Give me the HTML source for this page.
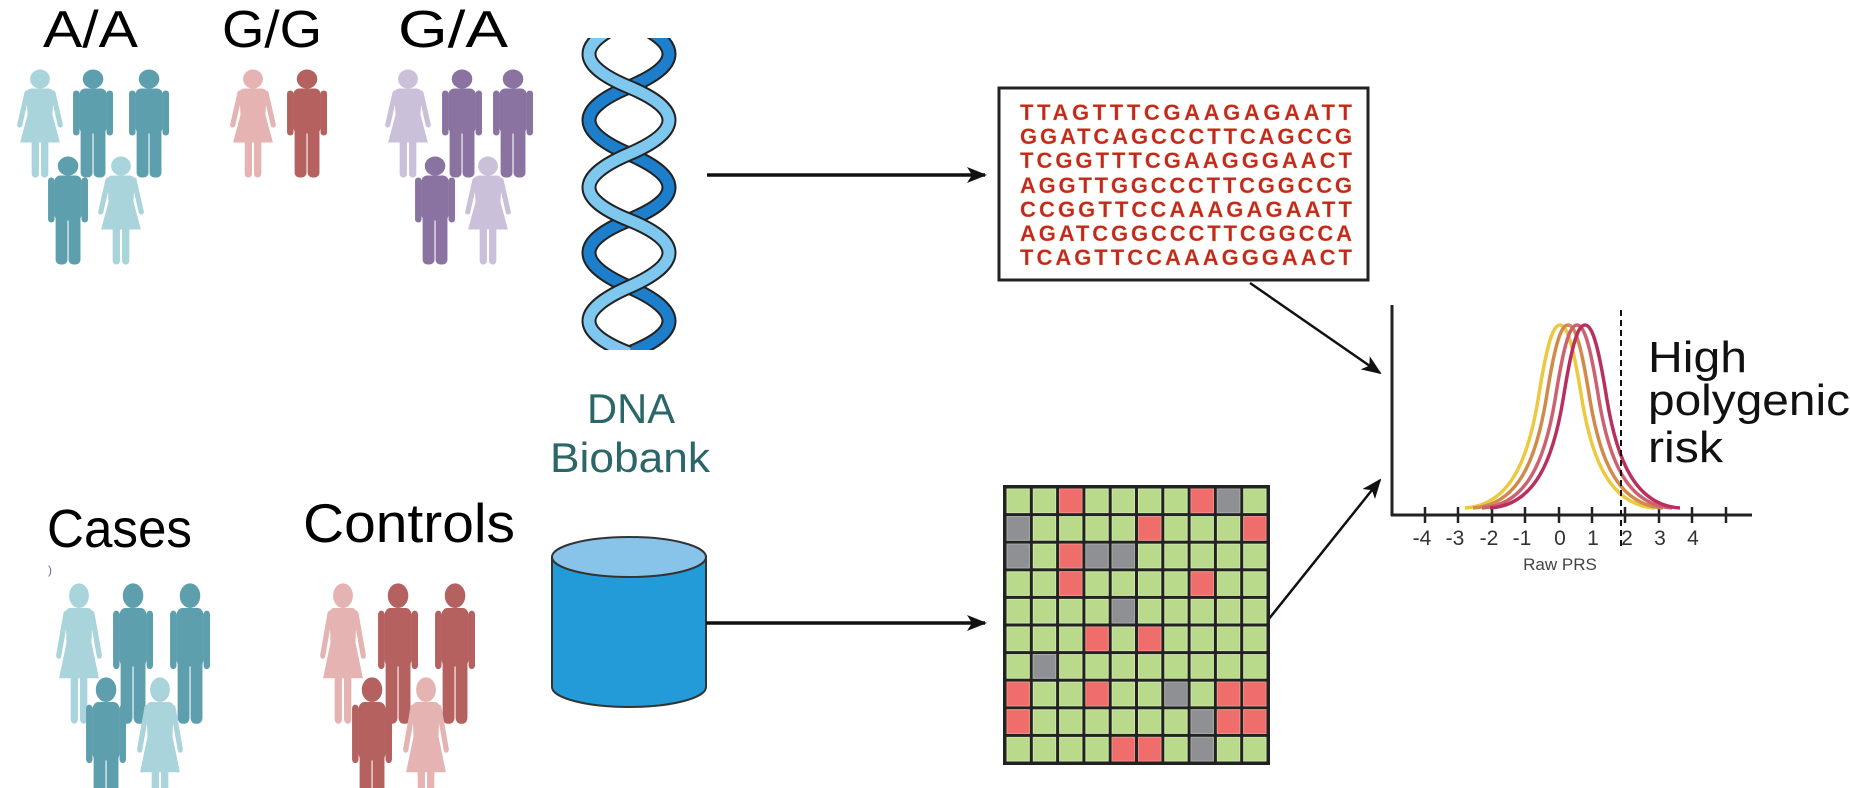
<!DOCTYPE html>
<html><head><meta charset="utf-8"><style>
html,body{margin:0;padding:0;background:#fff;}
svg{display:block;}
text{font-family:"Liberation Sans",sans-serif;}
</style></head><body>
<svg width="1850" height="788" viewBox="0 0 1850 788" xmlns="http://www.w3.org/2000/svg">
<defs>
<g id="man">
<circle cx="18" cy="9" r="9"/>
<rect x="6" y="19" width="24" height="44" rx="5"/>
<rect x="0" y="21" width="5" height="44" rx="2.5"/>
<rect x="31" y="21" width="5" height="44" rx="2.5"/>
<rect x="7" y="55" width="10" height="52" rx="4"/>
<rect x="19" y="55" width="10" height="52" rx="4"/>
</g>
<g id="woman">
<circle cx="22.5" cy="9" r="9"/>
<path d="M14,19 L31,19 Q35,19 35,24 L34,45 L41,72 L4,72 L11,45 L10,24 Q10,19 14,19 Z"/>
<path d="M10,23 L3,55" stroke-width="5" stroke-linecap="round" fill="none"/>
<path d="M35,23 L42,55" stroke-width="5" stroke-linecap="round" fill="none"/>
<rect x="15" y="70" width="6" height="37" rx="3"/>
<rect x="24" y="70" width="6" height="37" rx="3"/>
</g>
<clipPath id="hc"><rect x="570" y="38" width="120" height="312"/></clipPath>
<marker id="ah" viewBox="0 0 20 16" refX="18" refY="8" markerWidth="20" markerHeight="16" markerUnits="userSpaceOnUse" orient="auto">
<path d="M0,0 L20,8 L0,16 L5,8 Z" fill="#111"/>
</marker>
<pattern id="cell" x="1005" y="487" width="26.3" height="27.6" patternUnits="userSpaceOnUse">
<rect x="0" y="0" width="26.3" height="27.6" fill="#222"/>
<rect x="2" y="2" width="22.3" height="23.6" fill="#b9da8a" stroke="#cfe8ad" stroke-width="1"/>
</pattern>
</defs>

<!-- Top headings -->
<text x="43" y="47" font-size="52" textLength="95" lengthAdjust="spacingAndGlyphs">A/A</text>
<text x="222" y="47" font-size="52" textLength="100" lengthAdjust="spacingAndGlyphs">G/G</text>
<text x="398" y="47" font-size="52" textLength="110" lengthAdjust="spacingAndGlyphs">G/A</text>

<!-- A/A group -->
<g fill="#a9d4dc" stroke="#a9d4dc"><use href="#woman" transform="translate(16.6,70) scale(1.04,1)"/></g>
<g fill="#5e9fae" stroke="#5e9fae"><use href="#man" transform="translate(73.6,70) scale(1.08,1)"/><use href="#man" transform="translate(129.6,70) scale(1.08,1)"/><use href="#man" transform="translate(48.6,157) scale(1.08,1)"/></g>
<g fill="#a9d4dc" stroke="#a9d4dc"><use href="#woman" transform="translate(97.6,157) scale(1.04,1)"/></g>
<!-- G/G -->
<g fill="#e4b3b2" stroke="#e4b3b2"><use href="#woman" transform="translate(229.6,70) scale(1.04,1)"/></g>
<g fill="#b5615f" stroke="#b5615f"><use href="#man" transform="translate(287.6,70) scale(1.08,1)"/></g>
<!-- G/A -->
<g fill="#cbc0da" stroke="#cbc0da"><use href="#woman" transform="translate(384.6,70) scale(1.04,1)"/></g>
<g fill="#8a73a1" stroke="#8a73a1"><use href="#man" transform="translate(442.6,70) scale(1.08,1)"/><use href="#man" transform="translate(493.6,70) scale(1.08,1)"/><use href="#man" transform="translate(415.6,157) scale(1.08,1)"/></g>
<g fill="#cbc0da" stroke="#cbc0da"><use href="#woman" transform="translate(464.6,157) scale(1.04,1)"/></g>

<!-- Bottom headings -->
<text x="47" y="547" font-size="54" textLength="145" lengthAdjust="spacingAndGlyphs">Cases</text>
<text x="303" y="542" font-size="55" textLength="212" lengthAdjust="spacingAndGlyphs">Controls</text>
<text x="48" y="574" font-size="12" fill="#669">)</text>

<!-- Cases -->
<g fill="#a9d4dc" stroke="#a9d4dc"><use href="#woman" transform="translate(55.6,584) scale(1.04,1.3)"/></g>
<g fill="#5e9fae" stroke="#5e9fae"><use href="#man" transform="translate(113.6,584) scale(1.08,1.3)"/><use href="#man" transform="translate(170.6,584) scale(1.08,1.3)"/><use href="#man" transform="translate(86.6,678) scale(1.08,1.3)"/></g>
<g fill="#a9d4dc" stroke="#a9d4dc"><use href="#woman" transform="translate(136.6,678) scale(1.04,1.3)"/></g>
<!-- Controls -->
<g fill="#e4b3b2" stroke="#e4b3b2"><use href="#woman" transform="translate(319.6,584) scale(1.04,1.3)"/></g>
<g fill="#b5615f" stroke="#b5615f"><use href="#man" transform="translate(378.6,584) scale(1.08,1.3)"/><use href="#man" transform="translate(435.6,584) scale(1.08,1.3)"/><use href="#man" transform="translate(352.6,678) scale(1.08,1.3)"/></g>
<g fill="#e4b3b2" stroke="#e4b3b2"><use href="#woman" transform="translate(402.6,678) scale(1.04,1.3)"/></g>

<!-- DNA helix -->
<g clip-path="url(#hc)" fill="none">
<path d="M629,21 Q709,54 629,87 T629,154 T629,220 T629,287 T629,353" stroke="#222" stroke-width="15"/>
<path d="M629,21 Q709,54 629,87 T629,154 T629,220 T629,287 T629,353" stroke="#1d7fcc" stroke-width="11"/>
<path d="M629,21 Q549,54 629,87 T629,154 T629,220 T629,287 T629,353" stroke="#222" stroke-width="15"/>
<path d="M629,21 Q549,54 629,87 T629,154 T629,220 T629,287 T629,353" stroke="#7ec8f0" stroke-width="11"/>
</g>
<text x="631" y="423" font-size="42" fill="#2b6668" text-anchor="middle" textLength="88" lengthAdjust="spacingAndGlyphs">DNA</text>
<text x="630" y="472" font-size="42" fill="#2b6668" text-anchor="middle" textLength="160" lengthAdjust="spacingAndGlyphs">Biobank</text>

<!-- Cylinder -->
<path d="M552,557 L552,687 A77,20 0 0 0 706,687 L706,557 Z" fill="#239bd8" stroke="#333" stroke-width="2"/>
<ellipse cx="629" cy="557" rx="77" ry="20" fill="#88c4ea" stroke="#333" stroke-width="2"/>

<!-- Arrows -->
<line x1="707" y1="175" x2="985" y2="175" stroke="#111" stroke-width="3.5" marker-end="url(#ah)"/>
<line x1="706" y1="623" x2="985" y2="623" stroke="#111" stroke-width="3.5" marker-end="url(#ah)"/>
<line x1="1250" y1="283" x2="1380" y2="373" stroke="#111" stroke-width="2.5" marker-end="url(#ah)"/>
<line x1="1268" y1="620" x2="1380" y2="480" stroke="#111" stroke-width="2.5" marker-end="url(#ah)"/>

<!-- Sequence box -->
<rect x="999" y="88" width="369" height="192" fill="#fff" stroke="#222" stroke-width="3"/>
<g font-size="22" font-weight="bold" fill="#c2262a" stroke="#e8a030" stroke-width="0.3" font-family="'Liberation Sans Narrow','Liberation Sans',sans-serif">
<text x="1020" y="120" textLength="332" lengthAdjust="spacing">TTAGTTTCGAAGAGAATT</text>
<text x="1020" y="144" textLength="332" lengthAdjust="spacing">GGATCAGCCCTTCAGCCG</text>
<text x="1020" y="168" textLength="332" lengthAdjust="spacing">TCGGTTTCGAAGGGAACT</text>
<text x="1020" y="193" textLength="332" lengthAdjust="spacing">AGGTTGGCCCTTCGGCCG</text>
<text x="1020" y="217" textLength="332" lengthAdjust="spacing">CCGGTTCCAAAGAGAATT</text>
<text x="1020" y="241" textLength="332" lengthAdjust="spacing">AGATCGGCCCTTCGGCCA</text>
<text x="1020" y="265" textLength="332" lengthAdjust="spacing">TCAGTTCCAAAGGGAACT</text>
</g>

<!-- Grid -->
<rect x="1004" y="486" width="265" height="278" fill="url(#cell)" stroke="#222" stroke-width="2"/>
<g fill="#ef6d6b" stroke="#f28a88" stroke-width="1">
<rect x="1059.6" y="489" width="22.3" height="23.6"/>
<rect x="1191.1" y="489" width="22.3" height="23.6"/>
<rect x="1138.5" y="516.6" width="22.3" height="23.6"/>
<rect x="1243.7" y="516.6" width="22.3" height="23.6"/>
<rect x="1059.6" y="544.2" width="22.3" height="23.6"/>
<rect x="1059.6" y="571.8" width="22.3" height="23.6"/>
<rect x="1191.1" y="571.8" width="22.3" height="23.6"/>
<rect x="1085.9" y="627" width="22.3" height="23.6"/>
<rect x="1138.5" y="627" width="22.3" height="23.6"/>
<rect x="1007" y="682.2" width="22.3" height="23.6"/>
<rect x="1085.9" y="682.2" width="22.3" height="23.6"/>
<rect x="1217.4" y="682.2" width="22.3" height="23.6"/>
<rect x="1243.7" y="682.2" width="22.3" height="23.6"/>
<rect x="1007" y="709.8" width="22.3" height="23.6"/>
<rect x="1217.4" y="709.8" width="22.3" height="23.6"/>
<rect x="1243.7" y="709.8" width="22.3" height="23.6"/>
<rect x="1112.2" y="737.4" width="22.3" height="23.6"/>
<rect x="1138.5" y="737.4" width="22.3" height="23.6"/>
</g>
<g fill="#8f9094" stroke="#a5a6a9" stroke-width="1">
<rect x="1217.4" y="489" width="22.3" height="23.6"/>
<rect x="1007" y="516.6" width="22.3" height="23.6"/>
<rect x="1007" y="544.2" width="22.3" height="23.6"/>
<rect x="1085.9" y="544.2" width="22.3" height="23.6"/>
<rect x="1112.2" y="544.2" width="22.3" height="23.6"/>
<rect x="1112.2" y="599.4" width="22.3" height="23.6"/>
<rect x="1033.3" y="654.6" width="22.3" height="23.6"/>
<rect x="1164.8" y="682.2" width="22.3" height="23.6"/>
<rect x="1191.1" y="709.8" width="22.3" height="23.6"/>
<rect x="1191.1" y="737.4" width="22.3" height="23.6"/>
</g>

<!-- Chart -->
<line x1="1392" y1="305" x2="1392" y2="516" stroke="#222" stroke-width="3"/>
<line x1="1391" y1="515" x2="1752" y2="515" stroke="#222" stroke-width="3"/>
<g stroke="#222" stroke-width="2.5">
<line x1="1425" y1="507" x2="1425" y2="523"/><line x1="1458" y1="507" x2="1458" y2="523"/>
<line x1="1492" y1="507" x2="1492" y2="523"/><line x1="1525" y1="507" x2="1525" y2="523"/>
<line x1="1559" y1="507" x2="1559" y2="523"/><line x1="1592" y1="507" x2="1592" y2="523"/>
<line x1="1625" y1="507" x2="1625" y2="523"/><line x1="1659" y1="507" x2="1659" y2="523"/>
<line x1="1692" y1="507" x2="1692" y2="523"/><line x1="1726" y1="507" x2="1726" y2="523"/>
</g>
<g fill="none" stroke-width="3.5">
<path d="M1465,508 C1510,505 1528,460 1538,400 C1546,350 1552,325 1560,325 C1568,325 1574,350 1582,400 C1592,460 1610,505 1655,508" stroke="#ecc93e"/>
<path d="M1473,508 C1518,505 1536,460 1546,400 C1554,350 1560,325 1568,325 C1576,325 1582,350 1590,400 C1600,460 1618,505 1663,508" stroke="#d28a4c"/>
<path d="M1482,508 C1527,505 1545,460 1555,400 C1563,350 1569,325 1577,325 C1585,325 1591,350 1599,400 C1609,460 1627,505 1672,508" stroke="#cc6270"/>
<path d="M1490,508 C1535,505 1553,460 1563,400 C1571,350 1577,325 1585,325 C1593,325 1599,350 1607,400 C1617,460 1635,505 1680,508" stroke="#b8305e"/>
</g>
<line x1="1621" y1="310" x2="1621" y2="550" stroke="#111" stroke-width="2" stroke-dasharray="6,4"/>
<g font-size="21" fill="#333" text-anchor="middle">
<text x="1422" y="545">-4</text><text x="1455" y="545">-3</text><text x="1489" y="545">-2</text>
<text x="1522" y="545">-1</text><text x="1560" y="545">0</text><text x="1593" y="545">1</text>
<text x="1627" y="545">2</text><text x="1660" y="545">3</text><text x="1693" y="545">4</text>
</g>
<text x="1560" y="570" font-size="17" fill="#444" text-anchor="middle">Raw PRS</text>
<g font-size="44" fill="#111">
<text x="1648" y="372" textLength="99" lengthAdjust="spacingAndGlyphs">High</text>
<text x="1648" y="415" textLength="202" lengthAdjust="spacingAndGlyphs">polygenic</text>
<text x="1648" y="462" textLength="75" lengthAdjust="spacingAndGlyphs">risk</text>
</g>
</svg>
</body></html>
